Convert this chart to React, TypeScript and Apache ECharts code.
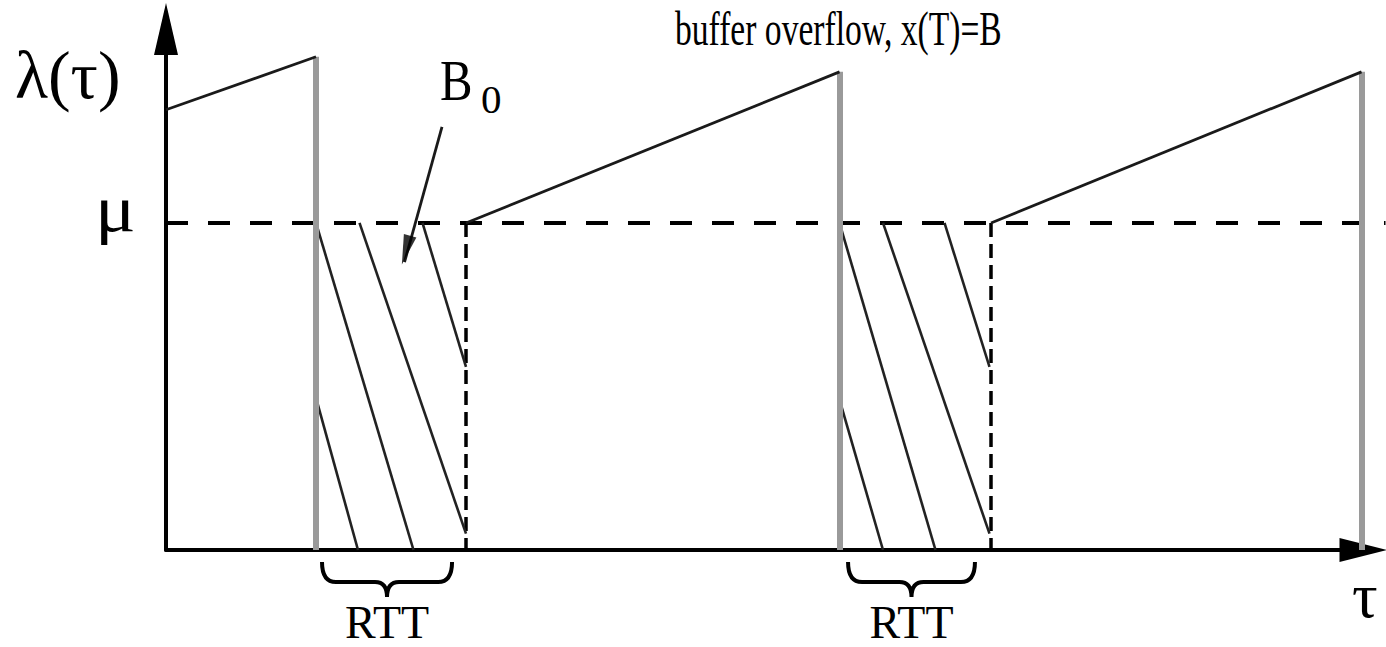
import React, { useEffect, useRef } from "react";
import * as echarts from "echarts";

// Axis extents (x in units of one RTT, y in units of mu)
const X_MAX = 7.98;
const Y_MAX = 1.593;

// Sending-rate ramps lambda(tau)
const rampSegments: number[][][] = [
  [[0, 1.346], [1.0, 1.508]],
  [[2.0, 1.0], [4.49, 1.462]],
  [[5.5, 1.0], [7.97, 1.462]],
];

// Window halving drops (grey verticals)
const dropSegments: number[][][] = [
  [[1.0, 1.508], [1.0, 0]],
  [[4.49, 1.462], [4.49, 0]],
  [[7.97, 1.462], [7.97, 0]],
];

// Capacity level mu
const muLevel: number[][][] = [[[0, 1.0], [8.13, 1.0]]];

// End of RTT (dashed verticals)
const rttEnds: number[][][] = [
  [[2.0, 1.0], [2.0, 0]],
  [[5.5, 1.0], [5.5, 0]],
];

// Hatching of the drained buffer B0
const hatchSegments: number[][][] = [
  [[1.0, 1.0], [1.65, 0]],
  [[1.29, 1.0], [2.0, 0.05]],
  [[1.71, 1.0], [2.0, 0.56]],
  [[1.0, 0.465], [1.28, 0]],
  [[4.49, 1.0], [5.13, 0]],
  [[4.49, 0.46], [4.78, 0]],
  [[4.78, 1.0], [5.49, 0.05]],
  [[5.19, 1.0], [5.49, 0.56]],
];

// Pointer from the B0 label
const pointerSegment: number[][][] = [[[1.84, 1.294], [1.59, 0.88]]];
const pointerHead: number[][] = [[1.6, 0.917]];

// RTT braces under the axis
const braceRanges: number[][] = [
  [1.04, 1.907],
  [4.547, 5.393],
];
const braceLabels: string[] = ["RTT", "RTT"];

const FONT = '"Liberation Serif", "Times New Roman", serif';

export default function App() {
  const ref = useRef<HTMLDivElement>(null);

  useEffect(() => {
    if (!ref.current) return;
    const chart = echarts.init(ref.current, null, { renderer: "svg" });

    const seg = (segs: number[][][]) => segs.map((c) => ({ coords: c }));

    chart.setOption({
      animation: false,
      backgroundColor: "#fff",
      grid: { left: 166, right: 23, top: 29, bottom: 97 },
      xAxis: {
        type: "value",
        min: 0,
        max: X_MAX,
        axisLine: {
          show: true,
          symbol: ["none", "triangle"],
          symbolSize: [24, 47],
          lineStyle: { color: "#000", width: 4 },
        },
        axisTick: { show: false },
        axisLabel: { show: false },
        splitLine: { show: false },
      },
      yAxis: {
        type: "value",
        min: 0,
        max: Y_MAX,
        axisLine: {
          show: true,
          symbol: ["none", "triangle"],
          symbolSize: [24, 52],
          lineStyle: { color: "#000", width: 4 },
        },
        axisTick: { show: false },
        axisLabel: { show: false },
        splitLine: { show: false },
      },
      series: [
        {
          type: "lines",
          coordinateSystem: "cartesian2d",
          clip: false,
          silent: true,
          lineStyle: { color: "#000", width: 4, type: [22, 20], opacity: 1 },
          data: seg(muLevel),
        },
        {
          type: "lines",
          coordinateSystem: "cartesian2d",
          clip: false,
          silent: true,
          lineStyle: { color: "#000", width: 3.5, type: [14, 7], opacity: 1 },
          data: seg(rttEnds),
        },
        {
          type: "lines",
          coordinateSystem: "cartesian2d",
          clip: false,
          silent: true,
          lineStyle: { color: "#222", width: 2.6, opacity: 1 },
          data: seg(hatchSegments),
        },
        {
          type: "lines",
          coordinateSystem: "cartesian2d",
          clip: false,
          silent: true,
          lineStyle: { color: "#9a9a9a", width: 6, opacity: 1 },
          data: seg(dropSegments),
        },
        {
          type: "lines",
          coordinateSystem: "cartesian2d",
          clip: false,
          silent: true,
          lineStyle: { color: "#1a1a1a", width: 2.8, opacity: 1 },
          data: seg(rampSegments),
        },
        {
          type: "lines",
          coordinateSystem: "cartesian2d",
          clip: false,
          silent: true,
          lineStyle: { color: "#1a1a1a", width: 2.8, opacity: 1 },
          data: seg(pointerSegment),
        },
        {
          type: "scatter",
          silent: true,
          symbol: "triangle",
          symbolSize: [13, 30],
          symbolRotate: 164,
          itemStyle: { color: "#000" },
          data: pointerHead,
        },
        {
          type: "custom",
          clip: false,
          silent: true,
          encode: { x: [0, 1] },
          data: braceRanges,
          renderItem: (params: any, api: any) => {
            const s = api.coord([api.value(0), 0]);
            const e = api.coord([api.value(1), 0]);
            const x0 = s[0];
            const x1 = e[0];
            const cx = (x0 + x1) / 2;
            const y0 = s[1] + 12;
            const mid = y0 + 20;
            const tip = y0 + 35;
            const d =
              `M${x0},${y0} Q${x0},${mid} ${x0 + 14},${mid} L${cx - 12},${mid} ` +
              `Q${cx},${mid} ${cx},${tip} Q${cx},${mid} ${cx + 12},${mid} ` +
              `L${x1 - 14},${mid} Q${x1},${mid} ${x1},${y0}`;
            return {
              type: "group",
              children: [
                {
                  type: "path",
                  shape: { pathData: d },
                  style: { stroke: "#000", lineWidth: 4, fill: "none" },
                },
                {
                  type: "text",
                  x: cx,
                  y: s[1] + 72,
                  style: {
                    text: braceLabels[params.dataIndex],
                    fontSize: 46,
                    fontFamily: FONT,
                    fill: "#000",
                    align: "center",
                    verticalAlign: "middle",
                  },
                },
              ],
            };
          },
        },
      ],
      graphic: [
        {
          type: "text",
          x: 675,
          y: 29,
          scaleX: 0.7,
          style: {
            text: "buffer overflow, x(T)=B",
            fontSize: 48,
            fontFamily: FONT,
            fill: "#000",
            align: "left",
            verticalAlign: "middle",
          },
        },
        {
          type: "text",
          x: 15,
          y: 75,
          style: {
            text: "λ(τ)",
            fontSize: 68,
            fontFamily: FONT,
            fill: "#000",
            align: "left",
            verticalAlign: "middle",
          },
        },
        {
          type: "text",
          x: 95,
          y: 209,
          scaleX: 1.15,
          style: {
            text: "μ",
            fontSize: 66,
            fontFamily: FONT,
            fill: "#000",
            align: "left",
            verticalAlign: "middle",
          },
        },
        {
          type: "text",
          x: 1352,
          y: 595,
          style: {
            text: "τ",
            fontSize: 64,
            fontFamily: FONT,
            fill: "#000",
            align: "left",
            verticalAlign: "middle",
          },
        },
        {
          type: "text",
          x: 440,
          y: 81,
          scaleX: 0.87,
          style: {
            text: "B",
            fontSize: 56,
            fontFamily: FONT,
            fill: "#000",
            align: "left",
            verticalAlign: "middle",
          },
        },
        {
          type: "text",
          x: 481,
          y: 99,
          style: {
            text: "0",
            fontSize: 41,
            fontFamily: FONT,
            fill: "#000",
            align: "left",
            verticalAlign: "middle",
          },
        },
      ],
    });

    return () => chart.dispose();
  }, []);

  return (
    <div
      ref={ref}
      style={{ position: "absolute", left: 0, top: 0, width: 1386, height: 647 }}
    />
  );
}
